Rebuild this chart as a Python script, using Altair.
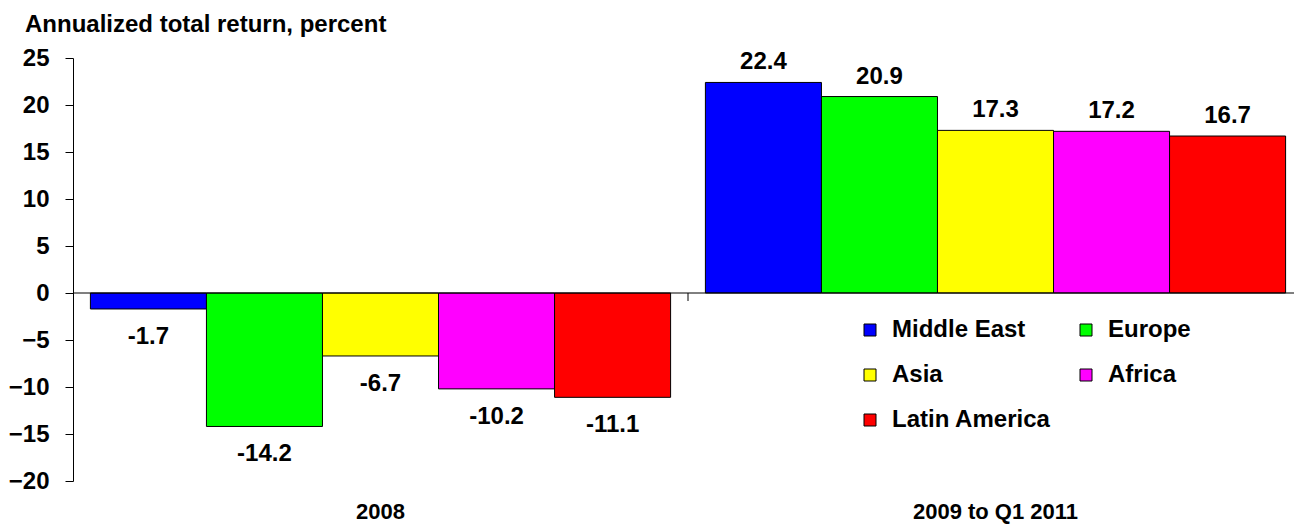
import altair as alt
import pandas as pd

periods = ["2008", "2009 to Q1 2011"]
regions = ["Middle East", "Europe", "Asia", "Africa", "Latin America"]
colors = ["#0000FF", "#00FF00", "#FFFF00", "#FF00FF", "#FF0000"]
returns_2008 = [-1.7, -14.2, -6.7, -10.2, -11.1]
returns_2009 = [22.4, 20.9, 17.3, 17.2, 16.7]
y_ticks = [-20, -15, -10, -5, 0, 5, 10, 15, 20, 25]

rows = []
for p, vals in zip(periods, [returns_2008, returns_2009]):
    for r, v in zip(regions, vals):
        rows.append({"period": p, "region": r, "value": v, "label": f"{v:.1f}"})
df = pd.DataFrame(rows)

FONT = "Liberation Sans"
X_SCALE = alt.Scale(domain=periods, range=[0, 1230], paddingInner=0, paddingOuter=0)


def xenc(**kw):
    return alt.X(
        "period:N", sort=periods, scale=X_SCALE,
        axis=alt.Axis(title=None, labelAngle=0, domain=False, ticks=False, tickSize=0,
                      labelPadding=37, labelFontSize=22, labelFontWeight="bold",
                      labelColor="black", labelFont=FONT, labelBaseline="alphabetic"),
        **kw)


xoff = alt.XOffset("region:N", sort=regions,
                   scale=alt.Scale(paddingInner=0, paddingOuter=0.15))
y = alt.Y("value:Q", scale=alt.Scale(domain=[-20, 25], nice=False, zero=False),
          axis=alt.Axis(title=None, values=y_ticks, grid=False, domainColor="black",
                        tickColor="black", tickSize=8, labelPadding=16, labelFontSize=24,
                        labelFontWeight="bold", labelColor="black", labelFont=FONT))
color = alt.Color("region:N", sort=regions,
                  scale=alt.Scale(domain=regions, range=colors),
                  legend=alt.Legend(title=None, orient="none", legendX=785, legendY=260,
                                    direction="horizontal",
                                    columns=2, symbolType="square", symbolSize=144,
                                    symbolStrokeColor="black", symbolStrokeWidth=1,
                                    labelFontSize=24, labelFontWeight="bold", labelFont=FONT,
                                    labelColor="black", labelOffset=10, columnPadding=23,
                                    rowPadding=21, padding=0))

base = alt.Chart(df)
bars = base.mark_bar(stroke="black", strokeWidth=1).encode(
    x=xenc(), xOffset=xoff, y=y, color=color)

zero = alt.Chart(pd.DataFrame({"value": [0]})).mark_rule(color="black", strokeWidth=1).encode(
    x=alt.XDatum(periods[0], type="nominal", bandPosition=0, scale=X_SCALE),
    x2=alt.X2Datum(periods[1], bandPosition=1),
    y=alt.Y("value:Q"))

sep = alt.Chart(pd.DataFrame({"period": [periods[1]], "value": [0], "v2": [-0.85]})).mark_rule(
    color="black", strokeWidth=1).encode(x=xenc(bandPosition=0), y=alt.Y("value:Q"), y2="v2:Q")

text_style = dict(baseline="alphabetic", fontSize=24, fontWeight="bold", font=FONT, color="black")
pos = base.transform_filter("datum.value >= 0").mark_text(dy=-13, **text_style).encode(
    x=xenc(), xOffset=xoff, y=y, text="label:N")
neg = base.transform_filter("datum.value < 0").mark_text(dy=35, **text_style).encode(
    x=xenc(), xOffset=xoff, y=y, text="label:N")

chart = alt.layer(bars, zero, sep, pos, neg).properties(
    width=1221, height=423,
    title=alt.Title("Annualized total return, percent", anchor="start", frame="group",
                    dx=-48, dy=30, offset=20, fontSize=24, fontWeight="bold", font=FONT,
                    color="black", baseline="alphabetic"),
    padding={"left": 65, "top": 50, "right": 0, "bottom": 45},
    autosize=alt.AutoSizeParams(type="none"),
).configure_view(strokeWidth=0)

chart.save("out.html", embed_options={"renderer": "svg", "actions": False})
